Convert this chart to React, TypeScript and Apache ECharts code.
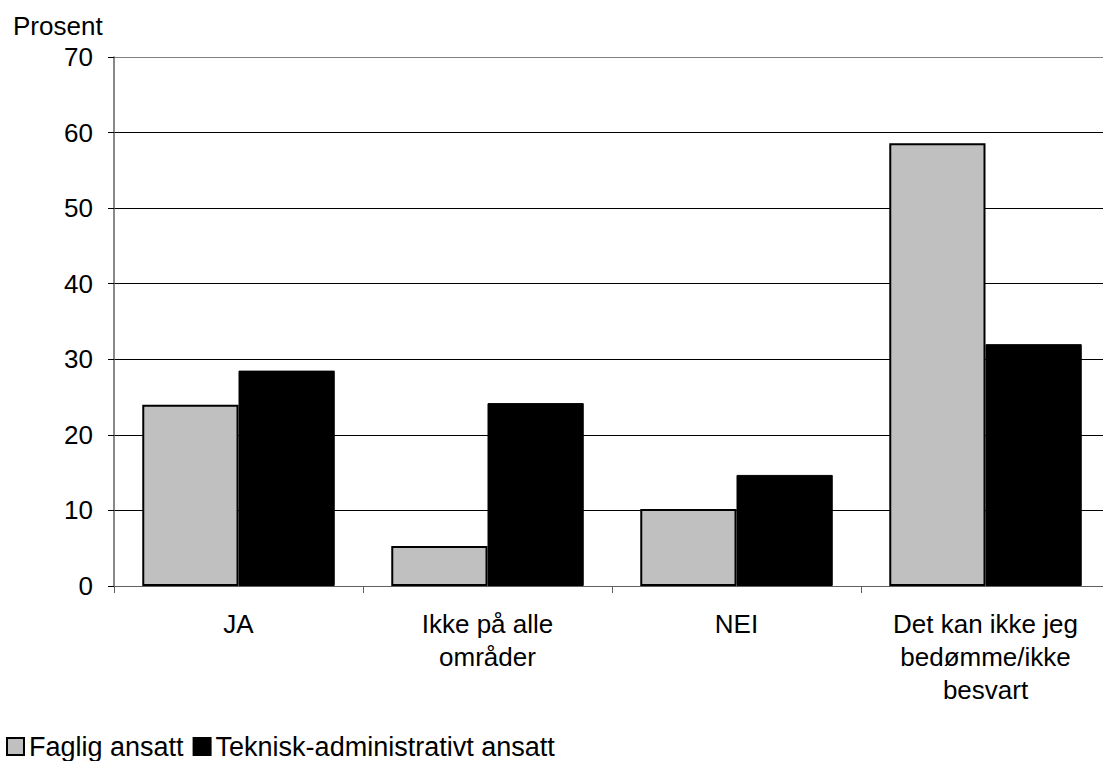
import React, { useEffect, useRef } from "react";
import * as echarts from "echarts";

const categories = ["JA", "Ikke på alle\nområder", "NEI", "Det kan ikke jeg\nbedømme/ikke\nbesvart"];
const seriesNames = ["Faglig ansatt", "Teknisk-administrativt ansatt"];
const faglig = [24.0, 5.3, 10.2, 58.6];
const teknisk = [28.5, 24.2, 14.7, 32.0];
const yTicks = { min: 0, max: 70, interval: 10 };

export default function App() {
  const ref = useRef<HTMLDivElement>(null);
  useEffect(() => {
    if (!ref.current) return;
    const chart = echarts.init(ref.current, null, { renderer: "svg" });
    const font = "Liberation Sans, Arial, sans-serif";
    chart.setOption({
      animation: false,
      backgroundColor: "#fff",
      textStyle: { fontFamily: font },
      grid: { left: 114, top: 57, bottom: 175, right: 0 },
      graphic: [
        {
          type: "text",
          left: 13,
          top: 13,
          style: { text: "Prosent", font: `26px ${font}`, fill: "#000" },
        },
      ],
      legend: {
        left: 1,
        top: 728,
        itemWidth: 17,
        itemHeight: 17,
        itemGap: 9,
        icon: "rect",
        textStyle: { fontSize: 27, color: "#000", fontFamily: font },
        data: seriesNames,
      },
      xAxis: {
        type: "category",
        data: categories,
        axisLine: { lineStyle: { color: "#606060", width: 1 } },
        axisTick: { show: true, length: 7, lineStyle: { color: "#606060" } },
        axisLabel: {
          interval: 0,
          fontSize: 26,
          color: "#000",
          lineHeight: 33,
          margin: 21,
          fontFamily: font,
        },
      },
      yAxis: {
        type: "value",
        min: yTicks.min,
        max: yTicks.max,
        interval: yTicks.interval,
        axisLine: { show: true, lineStyle: { color: "#606060", width: 1.5 } },
        axisTick: { show: true, length: 6, lineStyle: { color: "#000" } },
        axisLabel: { fontSize: 26, color: "#000", margin: 21, fontFamily: font },
        splitLine: {
          lineStyle: {
            color: ["#000", "#000", "#000", "#000", "#000", "#000", "#000", "#808080"],
            width: 1,
          },
        },
      },
      series: [
        {
          name: seriesNames[0],
          type: "bar",
          data: faglig,
          barGap: "0%",
          barCategoryGap: "22.7%",
          itemStyle: { color: "#C0C0C0", borderColor: "#000", borderWidth: 2 },
        },
        {
          name: seriesNames[1],
          type: "bar",
          data: teknisk,
          barGap: "0%",
          barCategoryGap: "22.7%",
          itemStyle: { color: "#000", borderColor: "#000", borderWidth: 1 },
        },
      ],
    });
    return () => chart.dispose();
  }, []);
  return (
    <div
      style={{
        position: "absolute",
        left: 0,
        top: 0,
        width: 1103,
        height: 761,
        overflow: "hidden",
      }}
    >
      <div ref={ref} style={{ position: "absolute", left: 0, top: 0, width: 1110, height: 761 }} />
    </div>
  );
}
